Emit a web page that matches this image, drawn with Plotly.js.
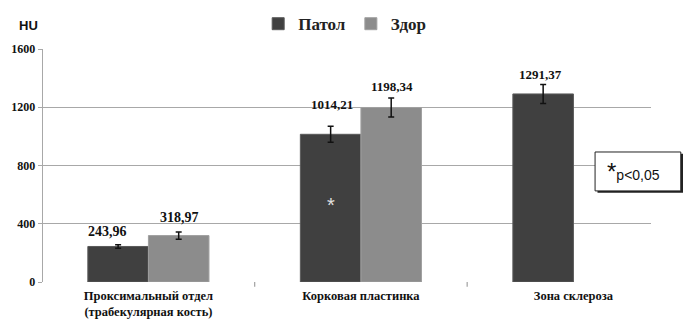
<!DOCTYPE html>
<html>
<head>
<meta charset="utf-8">
<script src="https://cdn.plot.ly/plotly-3.0.1.min.js"></script>
<style>html,body{margin:0;padding:0;background:#fff;}#chart{width:683px;height:322px;}</style>
</head>
<body>
<div id="chart"></div>
<script>
var categories = ["Проксимальный отдел<br>(трабекулярная кость)", "Корковая пластинка", "Зона склероза"];
var seriesNames = ["Патол", "Здор"];
var patolValues = [243.96, 1014.21, 1291.37];
var zdorValues = [318.97, 1198.34, null];
var patolErrors = [12, 55, 65];
var zdorErrors = [25, 65, 0];
var yTickVals = [0, 400, 800, 1200, 1600];
var yTickText = ["0", "400", "800", "1200", "1600"];
var significance = {category: 1, series: 0, y: 530, text: "*"};
var noteText = "p<0,05";

var SERIF_FAMILY = "Liberation Serif";
var SANS_FAMILY = "Liberation Sans";
var idx = categories.map(function(_, i){ return i; });

function fmt(v){ return v.toFixed(2).replace(".", ","); }
function bold(s){ return s.split("<br>").map(function(p){ return "<b>" + p + "</b>"; }).join("<br>"); }

var traces = [
  {type: "bar", name: "<b>" + seriesNames[0] + "</b>", x: idx, y: patolValues,
   marker: {color: "#404040", line: {color: "#5a5a5a", width: 1}},
   error_y: {type: "data", array: patolErrors, visible: true, color: "#111", thickness: 1.5, width: 3},
   hoverinfo: "none"},
  {type: "bar", name: "<b>" + seriesNames[1] + "</b>", x: idx, y: zdorValues,
   marker: {color: "#8c8c8c", line: {color: "#a0a0a0", width: 1}},
   error_y: {type: "data", array: zdorErrors, visible: true, color: "#111", thickness: 1.5, width: 3},
   hoverinfo: "none"}
];

var annotations = [];
var labelShift = [[-41, 31], [-29, 31], [-33, 0]];
var labelLift = [[15, 18], [30, 21], [19, 0]];
patolValues.forEach(function(v, i){
  if (v == null) return;
  annotations.push({x: i, y: v, xref: "x", yref: "y", text: "<b>" + fmt(v) + "</b>", showarrow: false,
    xshift: labelShift[i][0], yshift: labelLift[i][0], font: {family: SERIF_FAMILY, size: i === 0 ? 14 : 13, color: "#111"}});
});
zdorValues.forEach(function(v, i){
  if (v == null) return;
  annotations.push({x: i, y: v, xref: "x", yref: "y", text: "<b>" + fmt(v) + "</b>", showarrow: false,
    xshift: labelShift[i][1], yshift: labelLift[i][1], font: {family: SERIF_FAMILY, size: i === 0 ? 14 : 13, color: "#111"}});
});
annotations.push({x: significance.category, y: significance.y, xref: "x", yref: "y", xshift: -30,
  text: significance.text, showarrow: false, font: {family: SANS_FAMILY, size: 20, color: "#e0e0e0"}});
annotations.push({xref: "paper", yref: "paper", x: -0.043, y: 1.1, xanchor: "left", yanchor: "middle",
  text: "<b>HU</b>", showarrow: false, font: {family: SANS_FAMILY, size: 13, color: "#111"}});
annotations.push({xref: "paper", yref: "paper", x: 0.925, y: 0.475, xanchor: "left", yanchor: "middle",
  text: "<span style='font-size:24px'>*</span><span style='font-size:14px'>" + noteText.replace("<", "&lt;") + "</span>",
  showarrow: false, font: {family: SANS_FAMILY, size: 14, color: "#111"}});

var layout = {
  width: 683, height: 322,
  margin: {l: 43, r: 32, t: 49, b: 40},
  paper_bgcolor: "#fff", plot_bgcolor: "#fff",
  barmode: "group", bargap: 0.43, bargroupgap: 0,
  showlegend: true,
  legend: {orientation: "h", xref: "container", yref: "container", x: 0.378, y: 0.925,
    xanchor: "left", yanchor: "middle",
    font: {family: SERIF_FAMILY, size: 17, color: "#222"}, itemwidth: 30, tracegroupgap: 0,
    bgcolor: "rgba(0,0,0,0)"},
  xaxis: {type: "linear", range: [-0.496, 2.365], tickvals: idx, ticktext: categories.map(bold),
    showgrid: false, zeroline: false, showline: false, ticks: "", ticklabelstandoff: 4,
    tickfont: {family: SERIF_FAMILY, size: 12.5, color: "#111"}},
  yaxis: {range: [0, 1600], tickvals: yTickVals, ticktext: yTickText.map(bold), showgrid: true,
    gridcolor: "#a8a8a8", gridwidth: 1.3, zeroline: false, showline: true, linecolor: "#a8a8a8", linewidth: 1.3,
    ticks: "outside", ticklen: 4, tickcolor: "#a8a8a8",
    tickfont: {family: SERIF_FAMILY, size: 12, color: "#111"}},
  shapes: [
    {type: "rect", xref: "paper", yref: "paper", x0: 0.912, x1: 1.053, y0: 0.383, y1: 0.550,
      fillcolor: "#222", line: {width: 0}, layer: "above"},
    {type: "rect", xref: "paper", yref: "paper", x0: 0.908, x1: 1.049, y0: 0.391, y1: 0.558,
      fillcolor: "#fff", line: {color: "#222", width: 1}, layer: "above"}
  ],
  annotations: annotations
};
[0.5, 1.5].forEach(function(b){
  layout.shapes.push({type: "line", xref: "x", yref: "paper", x0: b, x1: b, y0: 0, y1: -0.02,
    line: {color: "#a8a8a8", width: 1.3}});
});

Plotly.newPlot("chart", traces, layout, {displayModeBar: false, staticPlot: true});
</script>
</body>
</html>
